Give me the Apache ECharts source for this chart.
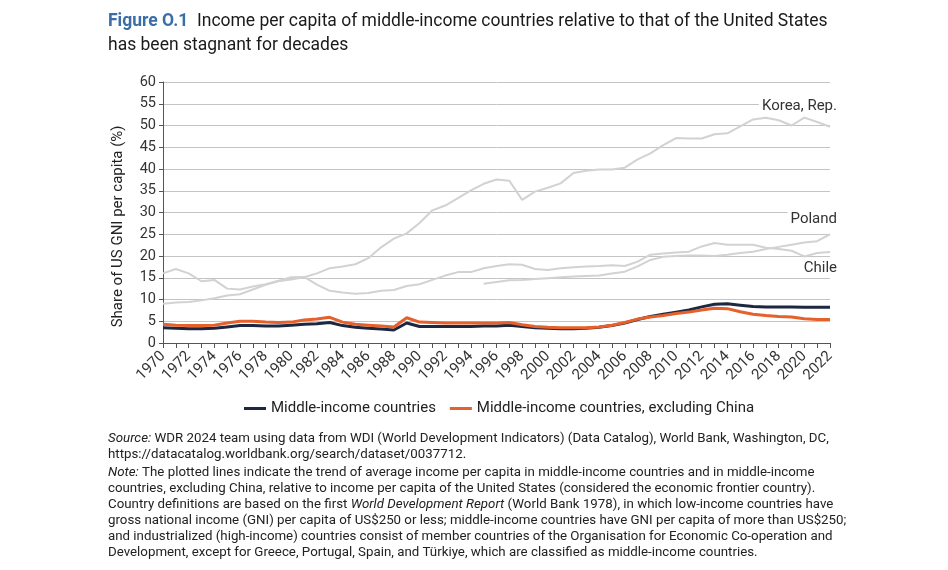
<!DOCTYPE html>
<html lang="en">
<head>
    <meta charset="utf-8">
    <title>Figure O.1</title>
    <script src="https://cdn.jsdelivr.net/npm/echarts@6/dist/echarts.min.js"></script>
    <style>
        html, body { margin: 0; padding: 0; background: #fff; }
        #chart { width: 948px; height: 570px; }
    </style>
</head>
<body>
<div id="chart"></div>
<script>
    // years 1970 - 2022
    const years = [];
    for (let y = 1970; y <= 2022; y++) years.push(String(y));

    const korea = [9.0, 9.3, 9.4, 9.8, 10.3, 10.9, 11.2, 12.3, 13.4, 14.2, 14.6, 15.1, 16.0, 17.2, 17.6, 18.1,
        19.5, 22.0, 24.0, 25.2, 27.6, 30.5, 31.6, 33.3, 35.1, 36.6, 37.6, 37.3, 32.9, 34.8, 35.7, 36.7, 39.1,
        39.6, 39.9, 39.9, 40.3, 42.2, 43.6, 45.5, 47.1, 47.0, 47.0, 48.0, 48.2, 49.8, 51.4, 51.8, 51.2, 50.0,
        51.8, 50.8, 49.7];
    const chile = [16.0, 17.0, 16.0, 14.2, 14.5, 12.5, 12.3, 13.0, 13.5, 14.3, 15.1, 15.2, 13.4, 12.0, 11.6,
        11.3, 11.5, 12.0, 12.2, 13.1, 13.5, 14.5, 15.5, 16.3, 16.3, 17.2, 17.7, 18.1, 18.0, 17.0, 16.8, 17.2,
        17.4, 17.6, 17.7, 17.9, 17.7, 18.7, 20.3, 20.6, 20.8, 21.0, 22.2, 23.0, 22.6, 22.6, 22.6, 21.9, 21.6,
        21.2, 19.9, 20.7, 20.9];
    const poland = [null, null, null, null, null, null, null, null, null, null, null, null, null, null, null,
        null, null, null, null, null, null, null, null, null, null, 13.6, 14.0, 14.4, 14.5, 14.7, 14.9, 15.1,
        15.3, 15.4, 15.5, 16.0, 16.4, 17.6, 19.1, 19.8, 20.0, 20.1, 20.1, 20.0, 20.3, 20.7, 21.0, 21.6, 22.1,
        22.6, 23.1, 23.4, 25.0];
    const middleIncome = [3.5, 3.4, 3.3, 3.3, 3.4, 3.7, 4.0, 4.0, 3.9, 3.9, 4.1, 4.3, 4.4, 4.7, 4.0, 3.6, 3.4,
        3.2, 3.0, 4.6, 3.8, 3.8, 3.8, 3.8, 3.8, 3.9, 3.9, 4.1, 3.8, 3.5, 3.4, 3.3, 3.3, 3.4, 3.6, 4.0, 4.6, 5.4,
        6.1, 6.6, 7.1, 7.6, 8.3, 8.9, 9.0, 8.7, 8.4, 8.3, 8.3, 8.3, 8.2, 8.2, 8.2];
    const exChina = [4.3, 4.1, 4.0, 4.0, 4.1, 4.6, 5.0, 5.0, 4.8, 4.7, 4.8, 5.3, 5.5, 5.9, 4.8, 4.3, 4.1, 3.9,
        3.7, 5.8, 4.8, 4.7, 4.6, 4.6, 4.6, 4.6, 4.6, 4.7, 4.2, 3.8, 3.6, 3.5, 3.5, 3.5, 3.7, 4.1, 4.7, 5.5, 6.0,
        6.3, 6.8, 7.1, 7.6, 8.0, 7.9, 7.2, 6.6, 6.3, 6.1, 6.0, 5.6, 5.4, 5.4];

    // country labels: [text, value where the label sits at 2022]
    const countryLabels = [['Korea, Rep.', 54.4], ['Poland', 28.4], ['Chile', 17.2]];
    const yTitle = 'Share of US GNI per capita (%)';

    const FONT = "Roboto, 'Noto Sans', sans-serif";
    const GREY = '#d2d2d2';

    function greyLine(name, data) {
        return {
            name: name, type: 'line', data: data, symbol: 'none', z: 1,
            lineStyle: { color: GREY, width: 2 }, itemStyle: { color: GREY },
            silent: true, connectNulls: false
        };
    }

    const chart = echarts.init(document.getElementById('chart'));
    const option = {
        animation: false,
        textStyle: { fontFamily: FONT },
        grid: { left: 163, right: 118, top: 82, bottom: 227 },
        legend: {
            data: ['Middle-income countries', 'Middle-income countries, excluding China'],
            top: 396, left: 239,
            icon: 'rect', itemWidth: 22, itemHeight: 3, itemGap: 14, itemStyle: { borderWidth: 0 },
            textStyle: { fontFamily: FONT, fontSize: 15, color: '#222' }
        },
        xAxis: {
            type: 'category', data: years, boundaryGap: false,
            axisLine: { lineStyle: { color: '#555' } },
            axisTick: { interval: 0, length: 5, lineStyle: { color: '#555' } },
            axisLabel: { interval: 1, rotate: 45, fontSize: 15, color: '#333', fontFamily: FONT, margin: 11 },
            splitLine: { show: false }
        },
        yAxis: {
            type: 'value', min: 0, max: 60, interval: 5,
            axisLine: { show: true, lineStyle: { color: '#555' } },
            axisTick: { show: true, length: 4, lineStyle: { color: '#555' } },
            axisLabel: { fontSize: 14.5, color: '#333', fontFamily: FONT, margin: 7 },
            splitLine: { lineStyle: { color: '#c4c4c4', width: 1 } }
        },
        series: [
            greyLine('Korea, Rep.', korea),
            greyLine('Chile', chile),
            greyLine('Poland', poland),
            {
                name: 'Middle-income countries', type: 'line', data: middleIncome, symbol: 'none', z: 3,
                lineStyle: { color: '#1c2741', width: 3 }, itemStyle: { color: '#1c2741' }
            },
            {
                name: 'Middle-income countries, excluding China', type: 'line', data: exChina, symbol: 'none', z: 4,
                lineStyle: { color: '#e5602a', width: 3 }, itemStyle: { color: '#e5602a' }
            }
        ],
        graphic: [
            {
                type: 'text', left: 108, top: 13,
                style: {
                    text: '{b|Figure O.1}  Income per capita of middle-income countries relative to that of the United States',
                    fontFamily: FONT, fontSize: 17.5, fill: '#1a1a1a',
                    rich: { b: { fontFamily: FONT, fontSize: 17.5, fontWeight: 'bold', fill: '#3a6ea8' } }
                }
            },
            {
                type: 'text', left: 108, top: 37,
                style: { text: 'has been stagnant for decades', fontFamily: FONT, fontSize: 17.5, fill: '#1a1a1a' }
            }
        ]
    };

    const notes = [
        '{i|Source:} WDR 2024 team using data from WDI (World Development Indicators) (Data Catalog), World Bank, Washington, DC,',
        'https://datacatalog.worldbank.org/search/dataset/0037712.',
        '{i|Note:} The plotted lines indicate the trend of average income per capita in middle-income countries and in middle-income',
        'countries, excluding China, relative to income per capita of the United States (considered the economic frontier country).',
        'Country definitions are based on the first {i|World Development Report} (World Bank 1978), in which low-income countries have',
        'gross national income (GNI) per capita of US$250 or less; middle-income countries have GNI per capita of more than US$250;',
        'and industrialized (high-income) countries consist of member countries of the Organisation for Economic Co-operation and',
        'Development, except for Greece, Portugal, Spain, and Türkiye, which are classified as middle-income countries.'
    ];
    // vertical centre of each note line
    const noteCentres = [439, 455, 473, 489, 505, 521, 537, 553];
    notes.forEach(function (line, i) {
        option.graphic.push({
            type: 'text', x: 108, y: noteCentres[i],
            style: {
                text: line, fontFamily: FONT, fontSize: 13.3, fill: '#222', verticalAlign: 'middle',
                rich: { i: { fontFamily: FONT, fontSize: 13.3, fontStyle: 'italic', fill: '#222' } }
            }
        });
    });

    chart.setOption(option);

    // country labels placed through the chart's own scales
    const extra = countryLabels.map(function (c) {
        const p = chart.convertToPixel({ gridIndex: 0 }, ['2022', c[1]]);
        return {
            type: 'text', x: p[0] + 7, y: p[1], z: 10,
            style: {
                text: c[0], fontFamily: FONT, fontSize: 15, fill: '#333', align: 'right', verticalAlign: 'middle',
                backgroundColor: '#fff', padding: [0, 0, 0, 3]
            }
        };
    });
    // y axis title, sitting a little below the middle of the axis as in the original
    const yt = chart.convertToPixel({ gridIndex: 0 }, ['1970', 26.8]);
    extra.push({
        type: 'text', x: yt[0] - 45, y: yt[1], rotation: Math.PI / 2,
        style: { text: yTitle, fontFamily: FONT, fontSize: 15, fill: '#222', align: 'center', verticalAlign: 'middle' }
    });
    chart.setOption({ graphic: option.graphic.concat(extra) });
</script>
</body>
</html>
